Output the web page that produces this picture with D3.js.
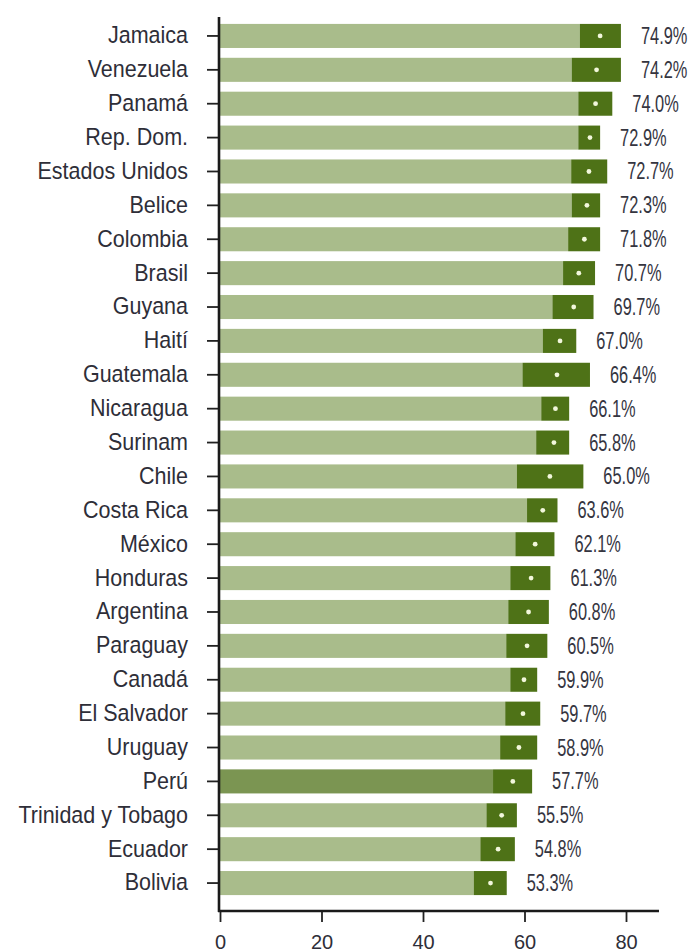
<!DOCTYPE html>
<html>
<head>
<meta charset="utf-8">
<script src="https://cdn.jsdelivr.net/npm/d3@7"></script>
<style>
  body { margin: 0; background: #ffffff; }
  svg { display: block; }
</style>
</head>
<body>
<svg width="691" height="952"></svg>
<script>
// Données
let pays = ["Jamaica", "Venezuela", "Panamá", "Rep. Dom.", "Estados Unidos", "Belice",
    "Colombia", "Brasil", "Guyana", "Haití", "Guatemala", "Nicaragua", "Surinam", "Chile",
    "Costa Rica", "México", "Honduras", "Argentina", "Paraguay", "Canadá", "El Salvador",
    "Uruguay", "Perú", "Trinidad y Tobago", "Ecuador", "Bolivia"];

let valeurs = [74.9, 74.2, 74.0, 72.9, 72.7, 72.3, 71.8, 70.7, 69.7, 67.0, 66.4, 66.1, 65.8,
    65.0, 63.6, 62.1, 61.3, 60.8, 60.5, 59.9, 59.7, 58.9, 57.7, 55.5, 54.8, 53.3];

// bornes de l'intervalle de confiance
let bas = [70.9, 69.3, 70.6, 70.6, 69.2, 69.3, 68.6, 67.6, 65.5, 63.6, 59.6, 63.3, 62.3,
    58.5, 60.5, 58.2, 57.2, 56.8, 56.4, 57.2, 56.2, 55.2, 53.8, 52.5, 51.3, 50.0];

let haut = [79.0, 79.0, 77.3, 74.9, 76.3, 74.9, 74.9, 73.9, 73.6, 70.2, 72.9, 68.8, 68.8,
    71.6, 66.5, 65.9, 65.1, 64.8, 64.5, 62.5, 63.1, 62.5, 61.5, 58.5, 58.1, 56.5];

let ticksX = [0, 20, 40, 60, 80];

let donnees = pays.map((p, i) => ({ pays: p, v: valeurs[i], bas: bas[i], haut: haut[i] }));

// Dessin
let svg = d3.select("svg");

let x = d3.scaleLinear().domain([0, 80]).range([220, 626]);

let y = d3.scaleBand()
    .domain(pays)
    .range([19, 900])
    .paddingInner(0.29)
    .paddingOuter(0.145);

// partie claire
svg.append("g").selectAll("rect")
    .data(donnees)
    .enter()
    .append("rect")
    .attr("x", x(0))
    .attr("y", d => y(d.pays))
    .attr("width", d => x(d.bas) - x(0))
    .attr("height", y.bandwidth())
    .attr("fill", d => d.pays == "Perú" ? "#7b9552" : "#a9bc8b");

// intervalle de confiance
svg.append("g").selectAll("rect")
    .data(donnees)
    .enter()
    .append("rect")
    .attr("x", d => x(d.bas))
    .attr("y", d => y(d.pays))
    .attr("width", d => x(d.haut) - x(d.bas))
    .attr("height", y.bandwidth())
    .attr("fill", "#4e7217");

// point
svg.append("g").selectAll("circle")
    .data(donnees)
    .enter()
    .append("circle")
    .attr("cx", d => x(d.v))
    .attr("cy", d => y(d.pays) + y.bandwidth() / 2)
    .attr("r", 2.4)
    .attr("fill", "#f2f7dc");

// étiquettes des valeurs
svg.append("g").selectAll("text")
    .data(donnees)
    .enter()
    .append("text")
    .attr("transform", d => "translate(" + (x(d.haut) + 20) + "," + (y(d.pays) + y.bandwidth() / 2 + 8) + ") scale(0.78,1.1)")
    .style("font-family", "'Liberation Sans', Arial, sans-serif")
    .style("font-size", "21px")
    .style("fill", "#35353f")
    .text(d => d.v.toFixed(1) + "%");

// axe vertical
let axeY = svg.append("g")
    .attr("transform", "translate(219,0)")
    .call(d3.axisLeft(y).tickSize(12).tickPadding(19));

axeY.select(".domain").remove();
axeY.selectAll("line").attr("stroke", "#222").attr("stroke-width", 1.8);
axeY.selectAll("text")
    .attr("transform", "scale(1,1.08)")
    .style("font-family", "'Liberation Sans', Arial, sans-serif")
    .style("font-size", "21.5px")
    .style("fill", "#2e2e38");

// axe horizontal
let axeX = svg.append("g")
    .attr("transform", "translate(0,911)")
    .call(d3.axisBottom(x).tickValues(ticksX).tickSize(11).tickPadding(13).tickFormat(d3.format("d")));

axeX.select(".domain").remove();
axeX.selectAll("line").attr("stroke", "#222").attr("stroke-width", 1.8);
axeX.selectAll("text")
    .style("font-family", "'Liberation Sans', Arial, sans-serif")
    .style("font-size", "20px")
    .style("fill", "#2e2e38");

// lignes des axes
svg.append("line")
    .attr("x1", 219).attr("y1", 17)
    .attr("x2", 219).attr("y2", 912)
    .attr("stroke", "#1a1a1a")
    .attr("stroke-width", 2.6);

svg.append("line")
    .attr("x1", 218).attr("y1", 911)
    .attr("x2", x(86.5)).attr("y2", 911)
    .attr("stroke", "#1a1a1a")
    .attr("stroke-width", 2.6);
</script>
</body>
</html>
